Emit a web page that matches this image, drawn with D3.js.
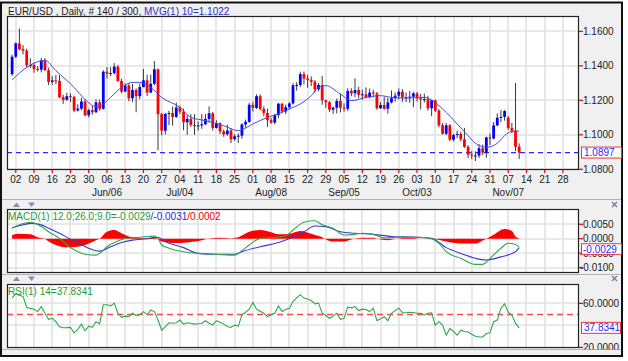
<!DOCTYPE html>
<html><head><meta charset="utf-8">
<script src="https://cdn.jsdelivr.net/npm/d3@7"></script>
<style>
html,body{margin:0;padding:0;background:#fff;}
svg{display:block;font-family:"Liberation Sans",Arial,sans-serif;}
</style></head><body>
<svg id="c" width="628" height="361"></svg>
<script>
// ---------- DATA ----------
const open = [1.1352,1.1453,1.1530,1.1497,1.1488,1.1403,1.1405,1.1382,1.1378,1.1430,1.1374,1.1307,1.1316,1.1313,1.1218,1.1203,1.1224,1.1220,1.1141,1.1152,
1.1193,1.1113,1.1143,1.1131,1.1188,1.1151,1.1366,1.1355,1.1358,1.1395,1.1312,1.1251,1.1286,1.1212,1.1260,1.1224,1.1277,1.1316,1.1245,1.1296,
1.1380,1.1120,1.1024,1.1121,1.1126,1.1104,1.1158,1.1134,1.1073,1.1093,1.1057,1.1050,1.1054,1.1061,1.1092,1.1125,1.1040,1.1068,1.1020,1.1003,
1.1025,1.0975,1.0991,1.0995,1.1060,1.1075,1.1174,1.1156,1.1224,1.1150,1.1127,1.1085,1.1071,1.1115,1.1180,1.1135,1.1160,1.1182,1.1287,1.1289,
1.1352,1.1326,1.1319,1.1308,1.1264,1.1289,1.1200,1.1189,1.1146,1.1157,1.1196,1.1157,1.1151,1.1255,1.1241,1.1260,1.1232,1.1235,1.1218,1.1245,
1.1240,1.1154,1.1173,1.1151,1.1188,1.1212,1.1227,1.1250,1.1217,1.1218,1.1221,1.1240,1.1212,1.1205,1.1207,1.1154,1.1200,1.1140,1.1055,1.1006,
1.1055,1.0972,1.0999,1.1005,1.0974,1.0930,1.0885,1.0880,1.0880,1.0922,1.0897,1.0985,1.0979,1.1055,1.1099,1.1104,1.1100,1.1039,1.1024,1.0931];
const high = [1.1465,1.1536,1.1616,1.1520,1.1500,1.1444,1.1418,1.1398,1.1445,1.1445,1.1389,1.1340,1.1347,1.1347,1.1232,1.1243,1.1241,1.1227,1.1177,1.1215,
1.1206,1.1152,1.1170,1.1205,1.1203,1.1375,1.1393,1.1392,1.1416,1.1405,1.1324,1.1298,1.1297,1.1296,1.1269,1.1298,1.1382,1.1348,1.1349,1.1428,
1.1385,1.1126,1.1126,1.1139,1.1164,1.1187,1.1169,1.1152,1.1113,1.1120,1.1120,1.1078,1.1120,1.1120,1.1165,1.1132,1.1085,1.1072,1.1030,1.1059,
1.1040,1.1004,1.1008,1.1067,1.1088,1.1185,1.1192,1.1234,1.1235,1.1165,1.1152,1.1098,1.1122,1.1185,1.1185,1.1175,1.1189,1.1299,1.1305,1.1366,
1.1367,1.1347,1.1339,1.1318,1.1300,1.1341,1.1204,1.1195,1.1163,1.1210,1.1239,1.1182,1.1270,1.1270,1.1327,1.1278,1.1262,1.1275,1.1268,1.1262,
1.1248,1.1191,1.1220,1.1215,1.1257,1.1245,1.1269,1.1265,1.1245,1.1254,1.1250,1.1248,1.1238,1.1239,1.1226,1.1200,1.1204,1.1149,1.1068,1.1068,
1.1062,1.1006,1.1024,1.1018,1.1040,1.0941,1.0906,1.0904,1.0946,1.0943,1.0990,1.1007,1.1074,1.1124,1.1143,1.1143,1.1108,1.1069,1.1300,1.0950];
const low = [1.1342,1.1445,1.1490,1.1466,1.1388,1.1387,1.1360,1.1367,1.1362,1.1372,1.1289,1.1290,1.1294,1.1213,1.1180,1.1197,1.1190,1.1131,1.1135,1.1142,
1.1109,1.1101,1.1117,1.1126,1.1140,1.1146,1.1326,1.1340,1.1350,1.1307,1.1241,1.1247,1.1195,1.1190,1.1131,1.1206,1.1276,1.1225,1.1242,1.1287,
1.0911,1.0997,1.1002,1.1057,1.1053,1.1098,1.1120,1.1026,1.1000,1.1045,1.1000,1.1024,1.1035,1.1057,1.1072,1.1025,1.1036,1.1005,1.0989,1.0995,
1.0952,1.0966,1.0953,1.0977,1.1042,1.1070,1.1135,1.1150,1.1142,1.1108,1.1046,1.1064,1.1061,1.1098,1.1125,1.1121,1.1148,1.1176,1.1256,1.1278,
1.1292,1.1273,1.1283,1.1244,1.1252,1.1174,1.1157,1.1133,1.1121,1.1124,1.1130,1.1134,1.1139,1.1224,1.1219,1.1213,1.1203,1.1213,1.1212,1.1217,
1.1146,1.1150,1.1145,1.1123,1.1182,1.1192,1.1205,1.1191,1.1190,1.1186,1.1161,1.1193,1.1148,1.1187,1.1140,1.1108,1.1133,1.1043,1.1001,1.0998,
1.0964,1.0962,1.0981,1.0961,1.0925,1.0866,1.0859,1.0848,1.0866,1.0882,1.0867,1.0941,1.0973,1.1050,1.1074,1.1082,1.1030,1.1009,1.0906,1.0860];
const close = [1.1453,1.1530,1.1497,1.1488,1.1403,1.1405,1.1382,1.1378,1.1430,1.1374,1.1307,1.1316,1.1313,1.1218,1.1203,1.1224,1.1220,1.1141,1.1152,1.1193,
1.1113,1.1143,1.1131,1.1188,1.1151,1.1366,1.1355,1.1358,1.1395,1.1312,1.1251,1.1286,1.1212,1.1260,1.1224,1.1277,1.1316,1.1245,1.1296,1.1380,
1.1120,1.1024,1.1121,1.1126,1.1104,1.1158,1.1134,1.1073,1.1093,1.1057,1.1050,1.1054,1.1061,1.1092,1.1125,1.1040,1.1068,1.1020,1.1003,1.1025,
1.0975,1.0991,1.0995,1.1060,1.1075,1.1174,1.1156,1.1224,1.1150,1.1127,1.1085,1.1071,1.1115,1.1180,1.1135,1.1160,1.1182,1.1287,1.1289,1.1352,
1.1326,1.1319,1.1308,1.1264,1.1289,1.1200,1.1189,1.1146,1.1157,1.1196,1.1157,1.1151,1.1255,1.1241,1.1260,1.1232,1.1235,1.1218,1.1245,1.1240,
1.1154,1.1173,1.1151,1.1188,1.1212,1.1227,1.1250,1.1217,1.1218,1.1221,1.1240,1.1212,1.1205,1.1207,1.1154,1.1200,1.1140,1.1055,1.1006,1.1055,
1.0972,1.0999,1.1005,1.0974,1.0930,1.0885,1.0880,1.0880,1.0922,1.0897,1.0985,1.0979,1.1055,1.1099,1.1104,1.1138,1.1039,1.1024,1.0931,1.0897];

const dayTickLabels = ["02","09","16","23","30","06","13","20","27","04","11","18","25","01","08","15","22","29","05","12","19","26","03","10","17","24","31","07","14","21","28"];
const monthTickWeeks = [5,9,14,18,22,27];
const monthTickLabels = ["Jun/06","Jul/04","Aug/08","Sep/05","Oct/03","Nov/07"];
const priceTicks = [1.08,1.10,1.12,1.14,1.16];
const lastPrice = 1.0897;

const maIdx = [0,4,8,9,12,17,20,23,25,27,30,33,35,38,41,46,49,53,58,62,66,70,73,76,79,82,84,86,90,93,97,101,104,108,113,115,118,122,125,127,130,133,135,137,139];
const maVal = [1.1318,1.1391,1.1430,1.1432,1.1372,1.1275,1.1205,1.1163,1.1179,1.1217,1.1275,1.1304,1.1304,1.1275,1.1217,1.1159,1.1101,1.1082,1.1053,1.1024,1.1063,1.1101,1.1121,1.1150,1.1179,1.1227,1.1275,1.1285,1.1236,1.1198,1.1217,1.1227,1.1217,1.1213,1.1217,1.1202,1.1150,1.1063,1.0995,1.0951,1.0928,1.0951,1.0995,1.1020,1.1022];

const macdIdx = [0,2,5,8,10,13,15,18,20,23,24,26,29,31,35,39,40,41,43,47,51,56,61,62,65,68,72,75,77,80,83,85,88,91,94,96,99,102,105,110,114,117,119,123,127,129,131,134,136,138,139];
const macdVal = [0.0036,0.0048,0.0057,0.0042,0.0024,0.0001,-0.0022,-0.0045,-0.0054,-0.0057,-0.0051,-0.0028,-0.0008,0.0001,0.0005,0.0009,0.0001,-0.0022,-0.0033,-0.0045,-0.0051,-0.0054,-0.0057,-0.0051,-0.0022,0.0001,0.0005,0.0010,0.0030,0.0057,0.0062,0.0048,0.0036,0.0013,0.0015,0.0019,0.0015,0.0003,0.0005,0.0005,0.0003,-0.0016,-0.0045,-0.0068,-0.0089,-0.0089,-0.0068,-0.0033,-0.0016,-0.0020,-0.0029];
const sigIdx = [0,2,5,8,10,13,16,19,21,24,27,30,33,37,40,42,47,51,56,61,63,68,73,76,80,83,86,90,94,99,105,110,115,119,123,127,130,134,138,139];
const sigVal = [0.0038,0.0045,0.0053,0.0048,0.0036,0.0019,-0.0002,-0.0020,-0.0033,-0.0043,-0.0028,-0.0013,-0.0005,0.0000,0.0005,-0.0010,-0.0031,-0.0051,-0.0054,-0.0054,-0.0045,-0.0028,-0.0013,0.0000,0.0024,0.0044,0.0042,0.0024,0.0019,0.0015,0.0007,0.0006,0.0001,-0.0031,-0.0051,-0.0068,-0.0074,-0.0063,-0.0045,-0.0031];
const histIdx = [0,2,5,7,9,10,12,15,18,20,23,24,26,28,30,33,37,39,41,44,48,51,54,57,60,62,65,68,71,73,76,79,82,83,85,86,88,91,93,96,99,101,103,105,108,112,116,119,123,127,129,130,132,135,137,138,139];
const histVal = [0.0013,0.0017,0.0015,0.0005,0.0000,-0.0010,-0.0022,-0.0030,-0.0028,-0.0022,-0.0005,0.0000,0.0024,0.0030,0.0019,0.0005,0.0002,0.0005,-0.0010,-0.0015,-0.0013,-0.0008,0.0001,0.0003,0.0001,0.0005,0.0024,0.0030,0.0022,0.0015,0.0017,0.0027,0.0017,0.0013,0.0005,-0.0003,-0.0010,-0.0010,-0.0003,0.0003,0.0003,-0.0003,-0.0005,-0.0001,0.0003,0.0000,-0.0002,-0.0010,-0.0017,-0.0017,-0.0006,0.0000,0.0014,0.0034,0.0027,0.0008,0.0002];
const macdTicks = [0.005,0,-0.005,-0.01];
const macdLast = [-0.0029,-0.0031,0.0002];

const rsiVal = [64.9,68.9,67.5,66.4,56.6,55.5,54.8,52.6,57.2,51.1,45.6,46.5,43.4,38.8,37.9,38.0,38.2,33.2,36.4,41.2,
35.1,39.4,38.2,43.4,41.5,58.8,58.8,57.8,60.3,51.1,47.4,48.5,48.0,51.1,49.0,49.8,52.6,49.7,54.1,52.6,
44.9,35.7,38.8,42.4,42.0,42.5,44.9,41.2,42.4,42.0,41.2,41.5,41.8,44.3,42.0,40.3,44.3,43.0,41.2,39.0,
38.2,40.3,39.4,49.5,52.0,54.8,60.9,54.8,53.0,51.1,48.0,49.5,51.1,57.8,52.6,54.5,55.7,61.8,65.0,68.0,
64.9,64.0,62.7,59.7,60.3,51.1,49.0,46.5,48.5,51.1,45.6,46.5,56.6,56.0,57.2,53.5,54.8,54.5,52.6,55.7,
44.3,46.0,48.0,44.3,51.1,53.5,55.7,51.7,51.5,52.0,51.8,51.1,51.0,49.5,51.1,51.5,40.3,43.4,40.3,31.1,
37.3,34.5,31.1,35.7,34.5,34.1,32.0,30.2,29.5,29.5,32.7,33.3,43.4,44.9,55.7,59.7,52.0,49.5,41.9,37.8341];
const rsiTicks = [60,20];
const rsiGrid = [60,40];
const rsiMid = 50;

// ---------- LAYOUT ----------
const svg = d3.select("#c");
const X0 = 7, X1 = 579;
const main = {y0:16, y1:170}, macdP = {y0:209, y1:273}, rsiP = {y0:284, y1:348};

const x = d3.scaleLinear().domain([-1.4,155.4]).range([X0,X1]);
const yP = d3.scaleLinear().domain([1.0796,1.1689]).range([main.y1, main.y0]);
const yM = d3.scaleLinear().domain([-0.0119,0.0103]).range([macdP.y1, macdP.y0]);
const yR = d3.scaleLinear().domain([19.5,77.7]).range([rsiP.y1, rsiP.y0]);
const tickIdx = dayTickLabels.map((d,w)=>1+5*w);

// window
svg.append("rect").attr("width",628).attr("height",361).attr("fill","#fff");
svg.append("rect").attr("x",1).attr("y",2.5).attr("width",621).attr("height",353.5)
  .attr("fill","#f0f0f0").attr("stroke","#111").attr("stroke-width",2);
[199.5,274.5,349.5].forEach(yy=>{
  svg.append("line").attr("x1",2).attr("x2",621).attr("y1",yy).attr("y2",yy).attr("stroke","#b4b4b4");
});

// title
const tt = svg.append("text").attr("x",8).attr("y",14.5).attr("font-size",10).attr("fill","#222");
tt.append("tspan").text("EUR/USD , Daily, # 140 / 300, ");
tt.append("tspan").attr("fill","#2c2cd0").text("MVG(1) 10=1.1022");

function panel(p, id){
  svg.append("rect").attr("x",X0).attr("y",p.y0).attr("width",X1-X0).attr("height",p.y1-p.y0).attr("fill","#fff");
  svg.append("clipPath").attr("id",id).append("rect").attr("x",X0).attr("y",p.y0).attr("width",X1-X0).attr("height",p.y1-p.y0);
  const g = svg.append("g").attr("clip-path",`url(#${id})`);
  g.selectAll(".vg").data(tickIdx).join("line")
    .attr("x1",d=>Math.round(x(d))).attr("x2",d=>Math.round(x(d)))
    .attr("y1",p.y0).attr("y2",p.y1).attr("stroke","#e2e2e2").attr("stroke-width",1.6);
  return g;
}
function border(p){
  svg.append("rect").attr("x",X0+0.5).attr("y",p.y0+0.5).attr("width",X1-X0-1).attr("height",p.y1-p.y0-1)
    .attr("fill","none").attr("stroke","#222").attr("stroke-width",1.2);
}

// ---- main panel ----
const gP = panel(main,"cp");
gP.selectAll(".hg").data(priceTicks).join("line")
  .attr("x1",X0).attr("x2",X1).attr("y1",d=>Math.round(yP(d))).attr("y2",d=>Math.round(yP(d)))
  .attr("stroke","#e2e2e2").attr("stroke-width",1.6);
gP.append("line").attr("x1",X0).attr("x2",X1).attr("y1",yP(lastPrice)).attr("y2",yP(lastPrice))
  .attr("stroke","#2a2aff").attr("stroke-width",1.2).attr("stroke-dasharray","5,4");
const idx = d3.range(close.length);
gP.selectAll(".wick").data(idx).join("line")
  .attr("x1",i=>x(i)).attr("x2",i=>x(i)).attr("y1",i=>yP(high[i])).attr("y2",i=>yP(low[i]))
  .attr("stroke","#3a3a3a").attr("stroke-width",1);
gP.selectAll(".body").data(idx).join("rect")
  .attr("x",i=>x(i)-1.4).attr("width",2.8)
  .attr("y",i=>yP(Math.max(open[i],close[i])))
  .attr("height",i=>Math.max(1,Math.abs(yP(open[i])-yP(close[i]))))
  .attr("fill",i=>close[i]>open[i]?"#0000ff":(close[i]<open[i]?"#ff0000":"#222"));
gP.append("path").datum(d3.range(maIdx.length))
  .attr("d",d3.line().x(k=>x(maIdx[k])).y(k=>yP(maVal[k])).curve(d3.curveMonotoneX))
  .attr("fill","none").attr("stroke","#4a4ad8").attr("stroke-width",1);
border(main);

// right price axis
const axP = svg.append("g");
axP.selectAll("line").data(priceTicks).join("line")
  .attr("x1",X1).attr("x2",X1+4).attr("y1",d=>yP(d)).attr("y2",d=>yP(d)).attr("stroke","#e00").attr("stroke-width",1.2);
axP.selectAll("text").data(priceTicks).join("text")
  .attr("x",X1+4).attr("y",d=>yP(d)+3.6).attr("font-size",10).attr("fill","#222").text(d=>d.toFixed(4));
svg.append("rect").attr("x",581.5).attr("y",yP(lastPrice)-5.5).attr("width",40).attr("height",11)
  .attr("fill","#fff").attr("stroke","#e33").attr("stroke-width",1);
svg.append("text").attr("x",584).attr("y",yP(lastPrice)+3.6).attr("font-size",10).attr("fill","#2a2aff").text(lastPrice.toFixed(4));

// x axis
const axX = svg.append("g");
axX.selectAll("line").data(tickIdx).join("line")
  .attr("x1",d=>x(d)).attr("x2",d=>x(d)).attr("y1",main.y1).attr("y2",main.y1+3).attr("stroke","#e00").attr("stroke-width",1.2);
axX.selectAll(".dl").data(tickIdx).join("text")
  .attr("x",d=>x(d)).attr("y",183).attr("text-anchor","middle").attr("font-size",10).attr("fill","#222")
  .text((d,w)=>dayTickLabels[w]);
axX.selectAll(".ml").data(monthTickWeeks).join("text")
  .attr("x",w=>x(1+5*w)).attr("y",196).attr("text-anchor","middle").attr("font-size",10).attr("fill","#222")
  .text((w,k)=>monthTickLabels[k]);

// ---- MACD panel ----
const gM = panel(macdP,"cm");
gM.selectAll(".hg").data(macdTicks).join("line")
  .attr("x1",X0).attr("x2",X1).attr("y1",d=>Math.round(yM(d))).attr("y2",d=>Math.round(yM(d)))
  .attr("stroke","#e2e2e2").attr("stroke-width",1.6);
gM.append("path").datum(d3.range(histIdx.length))
  .attr("d",d3.area().x(k=>x(histIdx[k])).y0(yM(0)).y1(k=>yM(histVal[k])).curve(d3.curveMonotoneX))
  .attr("fill","#ff0000");
gM.append("path").datum(d3.range(sigIdx.length))
  .attr("d",d3.line().x(k=>x(sigIdx[k])).y(k=>yM(sigVal[k])).curve(d3.curveMonotoneX))
  .attr("fill","none").attr("stroke","#3838d8").attr("stroke-width",1.1);
gM.append("path").datum(d3.range(macdIdx.length))
  .attr("d",d3.line().x(k=>x(macdIdx[k])).y(k=>yM(macdVal[k])).curve(d3.curveMonotoneX))
  .attr("fill","none").attr("stroke","#2fa84a").attr("stroke-width",1.1);
border(macdP);
const mt = svg.append("text").attr("x",8).attr("y",220).attr("font-size",10);
mt.append("tspan").attr("fill","#1e9a3c").text("MACD(1) 12.0;26.0;9.0="+macdLast[0].toFixed(4));
mt.append("tspan").attr("fill","#2a2ad8").text("/"+macdLast[1].toFixed(4));
mt.append("tspan").attr("fill","#e00").text("/"+macdLast[2].toFixed(4));
const axM = svg.append("g");
axM.selectAll("line").data(macdTicks).join("line")
  .attr("x1",X1).attr("x2",X1+4).attr("y1",d=>yM(d)).attr("y2",d=>yM(d)).attr("stroke","#e00").attr("stroke-width",1.2);
axM.selectAll("text").data(macdTicks).join("text")
  .attr("x",d=>d<0?X1+1:X1+4).attr("y",d=>yM(d)+3.6).attr("font-size",10).attr("fill","#222").text(d=>d.toFixed(4));
const mby = yM(macdLast[0]) + 2;
svg.append("rect").attr("x",581.5).attr("y",mby-5.3).attr("width",40).attr("height",10.6)
  .attr("fill","#fff").attr("stroke","#e33").attr("stroke-width",1);
svg.append("text").attr("x",583).attr("y",mby+3.6).attr("font-size",10).attr("fill","#2a2aff").text(macdLast[0].toFixed(4));

// ---- RSI panel ----
const gR = panel(rsiP,"cr");
gR.selectAll(".hg").data(rsiGrid).join("line")
  .attr("x1",X0).attr("x2",X1).attr("y1",d=>Math.round(yR(d))).attr("y2",d=>Math.round(yR(d)))
  .attr("stroke","#e2e2e2").attr("stroke-width",1.6);
gR.append("line").attr("x1",X0).attr("x2",X1).attr("y1",yR(rsiMid)).attr("y2",yR(rsiMid))
  .attr("stroke","#ff4a4a").attr("stroke-width",1.5).attr("stroke-dasharray","6,4");
gR.append("path").datum(idx)
  .attr("d",d3.line().x(i=>x(i)).y(i=>yR(rsiVal[i])))
  .attr("fill","none").attr("stroke","#2fa84a").attr("stroke-width",1.1);
border(rsiP);
svg.append("text").attr("x",8).attr("y",295).attr("font-size",10).attr("fill","#1e9a3c")
  .text("RSI(1) 14="+rsiVal[rsiVal.length-1].toFixed(4));
svg.append("clipPath").attr("id","cra").append("rect").attr("x",X1).attr("y",rsiP.y0).attr("width",44).attr("height",rsiP.y1-rsiP.y0+1.5);
const axR = svg.append("g").attr("clip-path","url(#cra)");
axR.selectAll("line").data(rsiTicks).join("line")
  .attr("x1",X1).attr("x2",X1+4).attr("y1",d=>yR(d)).attr("y2",d=>yR(d)).attr("stroke","#e00").attr("stroke-width",1.2);
axR.selectAll("text").data(rsiTicks).join("text")
  .attr("x",X1+4).attr("y",d=>yR(d)+3.6).attr("font-size",10).attr("fill","#222").text(d=>d.toFixed(4));
const rl = rsiVal[rsiVal.length-1];
svg.append("rect").attr("x",581.5).attr("y",yR(rl)-5.5).attr("width",39).attr("height",11)
  .attr("fill","#fff").attr("stroke","#e33").attr("stroke-width",1);
svg.append("text").attr("x",584).attr("y",yR(rl)+3.6).attr("font-size",10).attr("fill","#2a2aff").text(rl.toFixed(4));

// small panel controls (arrows and close marks)
[204.5, 278.5].forEach(cy=>{
  svg.append("path").attr("d",`M13,${cy+2.5}L20,${cy+2.5}L16.5,${cy-2}Z`).attr("fill","#8090b4");
  svg.append("path").attr("d",`M28,${cy-2}L35,${cy-2}L31.5,${cy+2.5}Z`).attr("fill","#8090b4");
  svg.append("path").attr("d",`M612,${cy-2.5}L617,${cy+2.5}M617,${cy-2.5}L612,${cy+2.5}`).attr("stroke","#7080a4").attr("stroke-width",1.4);
});
</script>
</body></html>
